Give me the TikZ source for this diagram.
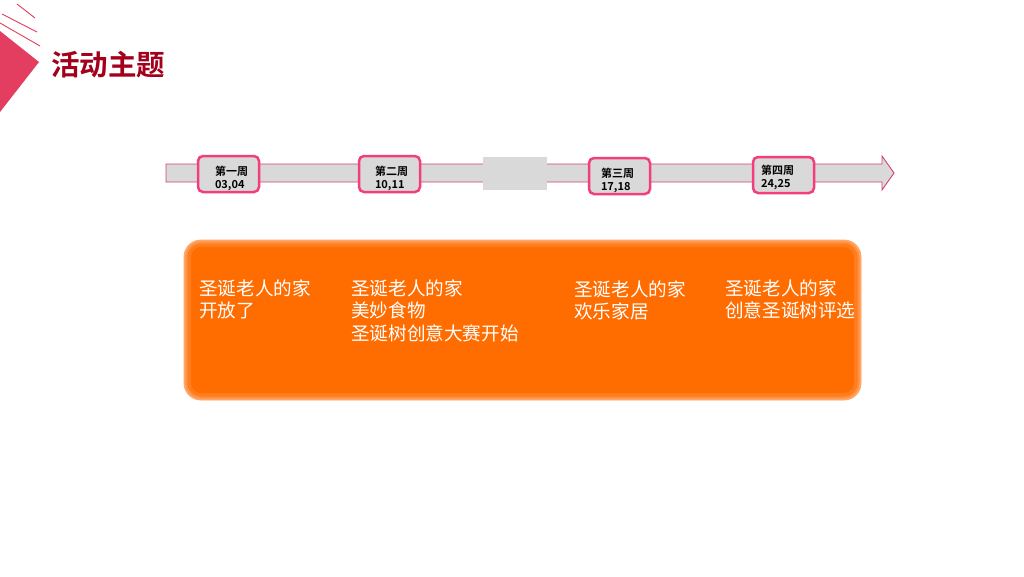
\documentclass[tikz,border=0pt]{standalone}
\usepackage{fontspec}
\setmainfont{Noto Sans CJK SC}
\newfontfamily\cjkbold[BoldFont={Noto Sans CJK SC Bold}]{Noto Sans CJK SC}
\usetikzlibrary{positioning}

\definecolor{rosered}{HTML}{E33D5F}
\definecolor{titlered}{HTML}{A3001C}
\definecolor{barfill}{HTML}{D9D9D9}
\definecolor{barline}{HTML}{D04270}
\definecolor{weekline}{HTML}{F23D7E}
\definecolor{planorange}{HTML}{FF6C00}

\tikzset{
  weekbox/.style={draw=weekline,line width=2.5pt,fill=barfill,rounded corners=5pt,
    minimum width=61pt,minimum height=36pt,inner sep=0pt},
  weektext/.style={inner sep=0pt,align=left,
    font=\cjkbold\bfseries\fontsize{11}{13}\selectfont},
  plantext/.style={anchor=north west,inner sep=0pt,align=left,text=white,
    font=\fontsize{18.6}{22.5}\selectfont}
}

\begin{document}
\begin{tikzpicture}[x=1pt,y=-1pt]
	\useasboundingbox[fill=white] (0,0) rectangle (1024,576);
	% corner mark
	\fill[rosered] (0,31) -- (39,62) -- (0,112) -- cycle;
	\draw[rosered,line width=0.9pt] (17,4) -- (35,18);
	\draw[rosered,line width=0.9pt] (2,14) -- (37,32);
	\draw[rosered,line width=0.9pt] (0,23) -- (40,46);
	\node (T) [anchor=west,inner sep=0pt,text=titlered,font=\cjkbold\bfseries\fontsize{28.5}{30}\selectfont] at (51,65) {活动主题};
	% time bar
	\draw[barline,fill=barfill,line width=0.9pt] (166,164) -- (882,164) -- (882,156) -- (894,173)
		-- (882,190) -- (882,182) -- (166,182) -- cycle;
	\fill[barfill] (483,157) rectangle (547,190);
	\node (W1) [weekbox] at (228.5,174) {};
	\node (W2) [weekbox] at (389.5,174) {};
	\node (W3) [weekbox] at (619.5,176) {};
	\node (W4) [weekbox] at (783.5,175) {};
	\node (W1t) [weektext,xshift=3pt,yshift=-4.5pt] at (W1.center) {第一周\\03,04};
	\node (W2t) [weektext,xshift=2pt,yshift=-4pt] at (W2.center) {第二周\\10,11};
	\node (W3t) [weektext,xshift=-2pt,yshift=-4.5pt] at (W3.center) {第三周\\17,18};
	\node (W4t) [weektext,xshift=-6pt,yshift=-2pt] at (W4.center) {第四周\\24,25};
	% plan box
	\fill[planorange,rounded corners=17pt] (184,240) rectangle (861,400);
	\begin{scope}
		\clip[rounded corners=17pt] (184,240) rectangle (861,400);
		\draw[white,opacity=0.12,line width=14pt,rounded corners=17pt] (184,240) rectangle (861,400);
		\draw[white,opacity=0.15,line width=7pt,rounded corners=17pt] (184,240) rectangle (861,400);
		\draw[white,opacity=0.2,line width=3pt,rounded corners=17pt] (184,240) rectangle (861,400);
	\end{scope}
	\draw[planorange!60!white,line width=0.8pt,rounded corners=17pt] (184,240) rectangle (861,400);
	\node (P1) [plantext] at (199,279.5) {圣诞老人的家\\开放了};
	\node (P2) [plantext] at (351,279.5) {圣诞老人的家\\美妙食物\\圣诞树创意大赛开始};
	\node (P3) [plantext] at (574,280.5) {圣诞老人的家\\欢乐家居};
	\node (P4) [plantext] at (725,279.5) {圣诞老人的家\\创意圣诞树评选};
\end{tikzpicture}
\end{document}
